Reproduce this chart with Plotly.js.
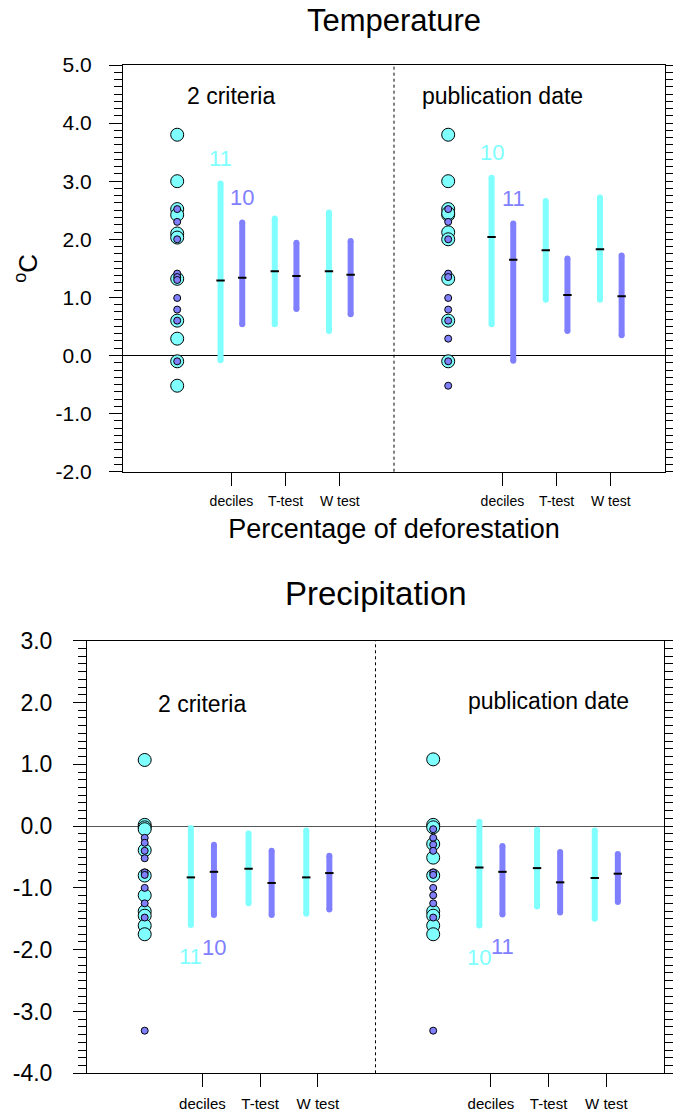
<!DOCTYPE html>
<html>
<head>
<meta charset="utf-8">
<script src="https://cdn.plot.ly/plotly-3.0.1.min.js"></script>
<style>html,body{margin:0;padding:0;background:#fff;}#chart{width:673px;height:1115px;}</style>
</head>
<body>
<div id="chart"></div>
<script>
// ---------------- DATA ----------------
const methods = ['deciles', 'T-test', 'W test'];
const panelNames = ['2 criteria', 'publication date'];
const tempTickVals = [-2, -1, 0, 1, 2, 3, 4, 5];
const tempTickText = ['-2.0', '-1.0', '0.0', '1.0', '2.0', '3.0', '4.0', '5.0'];
const precTickVals = [-4, -3, -2, -1, 0, 1, 2, 3];
const precTickText = ['-4.0', '-3.0', '-2.0', '-1.0', '0.0', '1.0', '2.0', '3.0'];

// Temperature: individual study values
const tempCyan2c = [3.8, 3.0, 2.52, 2.42, 2.1, 2.03, 1.32, 0.6, 0.29, -0.1, -0.52];
const tempBlue2c = [2.52, 2.3, 2.0, 1.41, 1.35, 1.3, 0.99, 0.79, 0.6, -0.1];
const tempCyanPub = [3.8, 3.0, 2.52, 2.42, 2.45, 2.12, 2.0, 1.32, 0.6, -0.1];
const tempBluePub = [2.52, 2.3, 2.0, 1.41, 1.35, 0.99, 0.79, 0.6, 0.29, -0.1, -0.52];
// Temperature bars per method: low, median, high
const tempCyan2cLo = [-0.08, 0.54, 0.42];
const tempCyan2cMed = [1.29, 1.45, 1.45];
const tempCyan2cHi = [2.96, 2.36, 2.46];
const tempBlue2cLo = [0.54, 0.80, 0.71];
const tempBlue2cMed = [1.34, 1.37, 1.39];
const tempBlue2cHi = [2.29, 1.94, 1.97];
const tempCyanPubLo = [0.54, 0.96, 0.96];
const tempCyanPubMed = [2.04, 1.81, 1.83];
const tempCyanPubHi = [3.06, 2.66, 2.72];
const tempBluePubLo = [-0.09, 0.42, 0.35];
const tempBluePubMed = [1.65, 1.04, 1.02];
const tempBluePubHi = [2.27, 1.67, 1.72];

// Precipitation: individual study values
const precCyan2c = [1.07, 0.02, -0.02, -0.05, -0.39, -0.8, -1.12, -1.38, -1.45, -1.61, -1.75];
const precBlue2c = [-0.19, -0.27, -0.4, -0.52, -0.75, -0.79, -1.0, -1.25, -1.48, -3.31];
const precCyanPub = [1.08, 0.02, -0.02, -0.29, -0.51, -0.8, -1.38, -1.45, -1.61, -1.75];
const precBluePub = [-0.05, -0.19, -0.3, -0.4, -0.75, -0.79, -1.0, -1.12, -1.25, -1.48, -3.31];
// Precipitation bars per method: low, median, high
const precCyan2cLo = [-1.60, -1.25, -1.42];
const precCyan2cMed = [-0.83, -0.69, -0.83];
const precCyan2cHi = [-0.03, -0.12, -0.07];
const precBlue2cLo = [-1.44, -1.44, -1.35];
const precBlue2cMed = [-0.74, -0.92, -0.76];
const precBlue2cHi = [-0.30, -0.40, -0.48];
const precCyanPubLo = [-1.61, -1.30, -1.50];
const precCyanPubMed = [-0.67, -0.68, -0.84];
const precCyanPubHi = [0.07, -0.06, -0.07];
const precBluePubLo = [-1.43, -1.40, -1.23];
const precBluePubMed = [-0.74, -0.91, -0.77];
const precBluePubHi = [-0.32, -0.42, -0.45];

// counts shown next to the deciles bars [cyan, blue]
const count2c = [11, 10];
const countPub = [10, 11];

// ---------------- STYLE ----------------
const CYAN = '#80ffff';
const BLUE = '#8080ff';
const FONT = 'Liberation Sans, Arial, Helvetica, sans-serif';
const W = 673, H = 1115;
// category positions on the x scale
const pointX = [1, 6];
const groupX = [[2, 3, 4], [7, 8, 9]];
const divX = 5;
const off = 0.2;

const traces = [];
const annotations = [];

function addPoints(vals, x, color, size, xa, ya) {
  traces.push({
    type: 'scatter', mode: 'markers', xaxis: xa, yaxis: ya,
    x: vals.map(() => x), y: vals,
    marker: {color: color, size: size, line: {color: 'black', width: 1}},
    hoverinfo: 'skip'
  });
}
function addBars(lo, med, hi, gx, dx, color, xa, ya) {
  for (let i = 0; i < lo.length; i++) {
    const xx = gx[i] + dx;
    traces.push({
      type: 'scatter', mode: 'lines+markers', xaxis: xa, yaxis: ya,
      x: [xx, xx], y: [lo[i], hi[i]],
      line: {color: color, width: 6},
      marker: {color: color, size: 6, line: {width: 0}},
      hoverinfo: 'skip'
    });
  }
  traces.push({
    type: 'scatter', mode: 'markers', xaxis: xa, yaxis: ya,
    x: gx.map(g => g + dx), y: med,
    marker: {symbol: 'line-ew', size: 6, color: 'black', line: {color: 'black', width: 2}},
    hoverinfo: 'skip'
  });
}
function addCount(txt, x, y, color, shift, xa, ya) {
  annotations.push({
    xref: xa, yref: ya, x: x, y: y, text: String(txt), showarrow: false,
    xanchor: 'center', yanchor: 'middle', yshift: shift,
    font: {family: FONT, size: 22, color: color}
  });
}

// Temperature panel
addPoints(tempCyan2c, pointX[0], CYAN, 13, 'x', 'y');
addPoints(tempBlue2c, pointX[0], BLUE, 7, 'x', 'y');
addPoints(tempCyanPub, pointX[1], CYAN, 13, 'x', 'y');
addPoints(tempBluePub, pointX[1], BLUE, 7, 'x', 'y');
addBars(tempCyan2cLo, tempCyan2cMed, tempCyan2cHi, groupX[0], -off, CYAN, 'x', 'y');
addBars(tempBlue2cLo, tempBlue2cMed, tempBlue2cHi, groupX[0], off, BLUE, 'x', 'y');
addBars(tempCyanPubLo, tempCyanPubMed, tempCyanPubHi, groupX[1], -off, CYAN, 'x', 'y');
addBars(tempBluePubLo, tempBluePubMed, tempBluePubHi, groupX[1], off, BLUE, 'x', 'y');
addCount(count2c[0], groupX[0][0] - off, tempCyan2cHi[0], CYAN, 25, 'x', 'y');
addCount(count2c[1], groupX[0][0] + off, tempBlue2cHi[0], BLUE, 25, 'x', 'y');
addCount(countPub[0], groupX[1][0] - off, tempCyanPubHi[0], CYAN, 25, 'x', 'y');
addCount(countPub[1], groupX[1][0] + off, tempBluePubHi[0], BLUE, 25, 'x', 'y');

// Precipitation panel
addPoints(precCyan2c, pointX[0], CYAN, 13, 'x2', 'y2');
addPoints(precBlue2c, pointX[0], BLUE, 7, 'x2', 'y2');
addPoints(precCyanPub, pointX[1], CYAN, 13, 'x2', 'y2');
addPoints(precBluePub, pointX[1], BLUE, 7, 'x2', 'y2');
addBars(precCyan2cLo, precCyan2cMed, precCyan2cHi, groupX[0], -off, CYAN, 'x2', 'y2');
addBars(precBlue2cLo, precBlue2cMed, precBlue2cHi, groupX[0], off, BLUE, 'x2', 'y2');
addBars(precCyanPubLo, precCyanPubMed, precCyanPubHi, groupX[1], -off, CYAN, 'x2', 'y2');
addBars(precBluePubLo, precBluePubMed, precBluePubHi, groupX[1], off, BLUE, 'x2', 'y2');
addCount(count2c[0], groupX[0][0] - off, precCyan2cLo[0], CYAN, -32, 'x2', 'y2');
addCount(count2c[1], groupX[0][0] + off, precBlue2cLo[0], BLUE, -32, 'x2', 'y2');
addCount(countPub[0], groupX[1][0] - off, precCyanPubLo[0], CYAN, -32, 'x2', 'y2');
addCount(countPub[1], groupX[1][0] + off, precBluePubLo[0], BLUE, -32, 'x2', 'y2');

// panel labels
annotations.push({xref: 'x', yref: 'y', x: groupX[0][0], y: 4.46, text: panelNames[0], showarrow: false,
  font: {family: FONT, size: 23, color: 'black'}});
annotations.push({xref: 'x', yref: 'y', x: groupX[1][0], y: 4.47, text: panelNames[1], showarrow: false,
  font: {family: FONT, size: 23, color: 'black'}});
annotations.push({xref: 'x2', yref: 'y2', x: groupX[0][0], y: 1.97, text: panelNames[0], showarrow: false,
  font: {family: FONT, size: 23, color: 'black'}});
annotations.push({xref: 'x2', yref: 'y2', x: groupX[1][1], y: 2.02, text: panelNames[1], showarrow: false,
  font: {family: FONT, size: 23, color: 'black'}});
// second title
annotations.push({xref: 'paper', yref: 'paper', x: (87 + 664) / 2 / W, y: 1 - 593 / H, text: 'Precipitation',
  showarrow: false, xanchor: 'center', yanchor: 'middle', font: {family: FONT, size: 33, color: 'black'}});

const tickvalsX = groupX[0].concat(groupX[1]);
const ticktextX = methods.concat(methods);

function xAxis(dom, anchor, extra) {
  return Object.assign({
    domain: dom, anchor: anchor, range: [0, 10],
    tickmode: 'array', tickvals: tickvalsX, ticktext: ticktextX,
    ticks: 'outside', ticklen: 13, tickwidth: 1, tickcolor: 'black',
    showline: true, linecolor: 'black', linewidth: 1, mirror: true,
    showgrid: false, zeroline: false,
    tickfont: {family: FONT, size: 14, color: 'black'}, ticklabelstandoff: 3,
    fixedrange: true
  }, extra || {});
}
function yAxis(dom, anchor, range, tv, tt, fs, extra) {
  return Object.assign({
    domain: dom, anchor: anchor, range: range,
    tickmode: 'array', tickvals: tv, ticktext: tt,
    ticks: 'outside', ticklen: 13, tickwidth: 1, tickcolor: 'black',
    minor: {dtick: 0.125, tick0: 0, ticks: 'outside', ticklen: 8, tickwidth: 1, tickcolor: 'black', showgrid: false},
    showline: true, linecolor: 'black', linewidth: 1, mirror: 'ticks',
    showgrid: false, zeroline: true, zerolinecolor: 'black', zerolinewidth: 1,
    tickfont: {family: FONT, size: fs, color: 'black'}, ticklabelstandoff: 13,
    fixedrange: true
  }, extra || {});
}

const layout = {
  width: W, height: H,
  margin: {l: 0, r: 0, t: 0, b: 0},
  paper_bgcolor: 'white', plot_bgcolor: 'white',
  showlegend: false, hovermode: false,
  font: {family: FONT, color: 'black'},
  title: {text: 'Temperature', font: {family: FONT, size: 31, color: 'black'},
    x: 394 / W, xanchor: 'center', xref: 'paper', y: 1 - 20 / H, yanchor: 'middle'},
  xaxis: xAxis([123 / W, 665 / W], 'y', {
    title: {text: 'Percentage of deforestation', font: {family: FONT, size: 27, color: 'black'}, standoff: 11}
  }),
  yaxis: yAxis([1 - 471.7 / H, 1 - 65 / H], 'x', [-2, 5], tempTickVals, tempTickText, 21, {
    title: {text: '<sup>o</sup>C', font: {family: FONT, size: 26, color: 'black'}, standoff: 10}
  }),
  xaxis2: xAxis([87 / W, 664 / W], 'y2', {tickfont: {family: FONT, size: 15, color: 'black'}, ticklabelstandoff: 4}),
  yaxis2: yAxis([1 - 1073.3 / H, 1 - 640.7 / H], 'x2', [-4, 3], precTickVals, precTickText, 23, {
    zerolinecolor: '#555555', ticklabelstandoff: 16
  }),
  shapes: [
    {type: 'line', xref: 'x', yref: 'y domain', x0: divX, x1: divX, y0: 0, y1: 1,
      line: {color: 'black', width: 1, dash: '3px,3px'}},
    {type: 'line', xref: 'x2', yref: 'y2 domain', x0: divX, x1: divX, y0: 0, y1: 1,
      line: {color: 'black', width: 1, dash: '3px,3px'}}
  ],
  annotations: annotations
};

Plotly.newPlot('chart', traces, layout, {staticPlot: true, displayModeBar: false});
</script>
</body>
</html>
